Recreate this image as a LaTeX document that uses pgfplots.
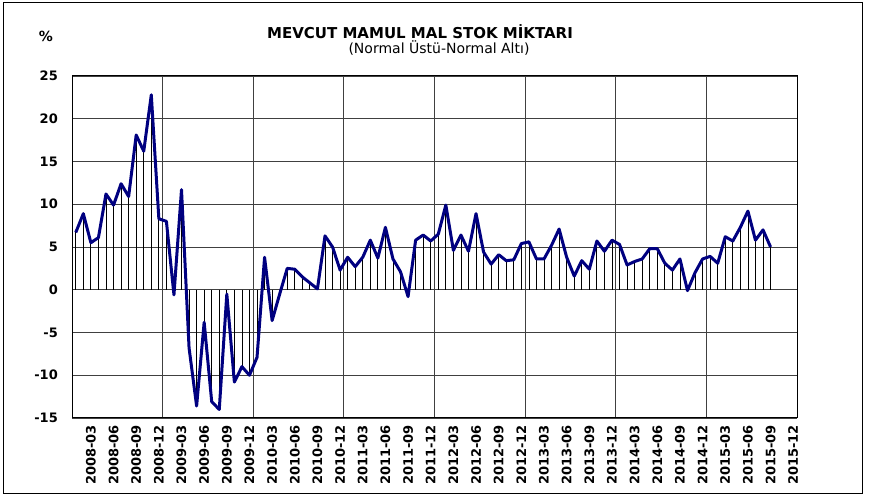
\documentclass[border=0pt]{standalone}
\usepackage{fontspec}
\setmainfont{DejaVu Sans}
\usepackage{pgfplots}
\usepackage{pgfplotstable}
\pgfplotsset{compat=1.18}
\definecolor{navyline}{RGB}{0,0,128}
\pgfplotstableread{
i v
0 6.7
1 8.9
2 5.5
3 6.1
4 11.2
5 9.9
6 12.4
7 10.9
8 18.1
9 16.2
10 22.8
11 8.3
12 8.0
13 -0.6
14 11.7
15 -6.8
16 -13.6
17 -3.8
18 -13.1
19 -14.0
20 -0.5
21 -10.8
22 -9.0
23 -10.0
24 -7.9
25 3.8
26 -3.6
27 -0.5
28 2.5
29 2.4
30 1.5
31 0.8
32 0.1
33 6.3
34 5.0
35 2.3
36 3.8
37 2.7
38 3.8
39 5.8
40 3.7
41 7.3
42 3.6
43 2.1
44 -0.8
45 5.8
46 6.4
47 5.7
48 6.5
49 9.9
50 4.6
51 6.4
52 4.5
53 8.9
54 4.4
55 3.0
56 4.1
57 3.4
58 3.5
59 5.4
60 5.6
61 3.6
62 3.6
63 5.2
64 7.1
65 3.8
66 1.6
67 3.4
68 2.4
69 5.7
70 4.5
71 5.8
72 5.3
73 2.9
74 3.3
75 3.6
76 4.8
77 4.8
78 3.1
79 2.3
80 3.6
81 -0.1
82 2.0
83 3.6
84 3.9
85 3.1
86 6.2
87 5.7
88 7.3
89 9.2
90 5.8
91 7.0
92 5.0
}\datatable
\begin{document}
\begin{tikzpicture}[x=1pt,y=1pt]
\path (0,0) rectangle (878,497);
\draw[line width=1pt] (3,3) rectangle (862,494);
\node[font=\fontsize{15}{18}\selectfont\bfseries] at (420,465) {MEVCUT MAMUL MAL STOK MİKTARI};
\node[font=\fontsize{14}{17}\selectfont] at (439,449) {(Normal Üstü-Normal Altı)};
\node[font=\fontsize{14}{16}\selectfont\bfseries] at (46,461) {\%};
\begin{axis}[
  at={(72pt,79pt)}, anchor=south west,
  scale only axis, width=725pt, height=342pt,
  xmin=-0.5, xmax=95.5, ymin=-15, ymax=25,
  ytick={-15,-10,...,25},
  yticklabels={-15,-10,-5,0,5,10,15,20,25},
  xtick={2,5,...,95},
  xticklabels={2008-03,2008-06,2008-09,2008-12,2009-03,2009-06,2009-09,2009-12,2010-03,2010-06,2010-09,2010-12,2011-03,2011-06,2011-09,2011-12,2012-03,2012-06,2012-09,2012-12,2013-03,2013-06,2013-09,2013-12,2014-03,2014-06,2014-09,2014-12,2015-03,2015-06,2015-09,2015-12},
  minor xtick={11.5,23.5,35.5,47.5,59.5,71.5,83.5},
  xminorgrids=true, ymajorgrids=true, xmajorgrids=false,
  major grid style={black!75, line width=0.8pt},
  minor grid style={black!75, line width=0.8pt},
  major tick length=0pt, minor tick length=0pt,
  axis line style={black, line width=1pt},
  ticklabel style={font=\fontsize{13}{15}\selectfont\bfseries, inner sep=0pt},
  xticklabel style={yshift=-7pt, rotate=90, anchor=east},
  yticklabel style={xshift=-14pt, anchor=east},
  clip=false,
]
\addplot[ycomb, black, line width=0.8pt, mark=none] table[x=i, y=v] {\datatable};
\addplot[navyline, line width=3pt, line join=round, mark=none] table[x=i, y=v] {\datatable};
\end{axis}
\end{tikzpicture}
\end{document}
